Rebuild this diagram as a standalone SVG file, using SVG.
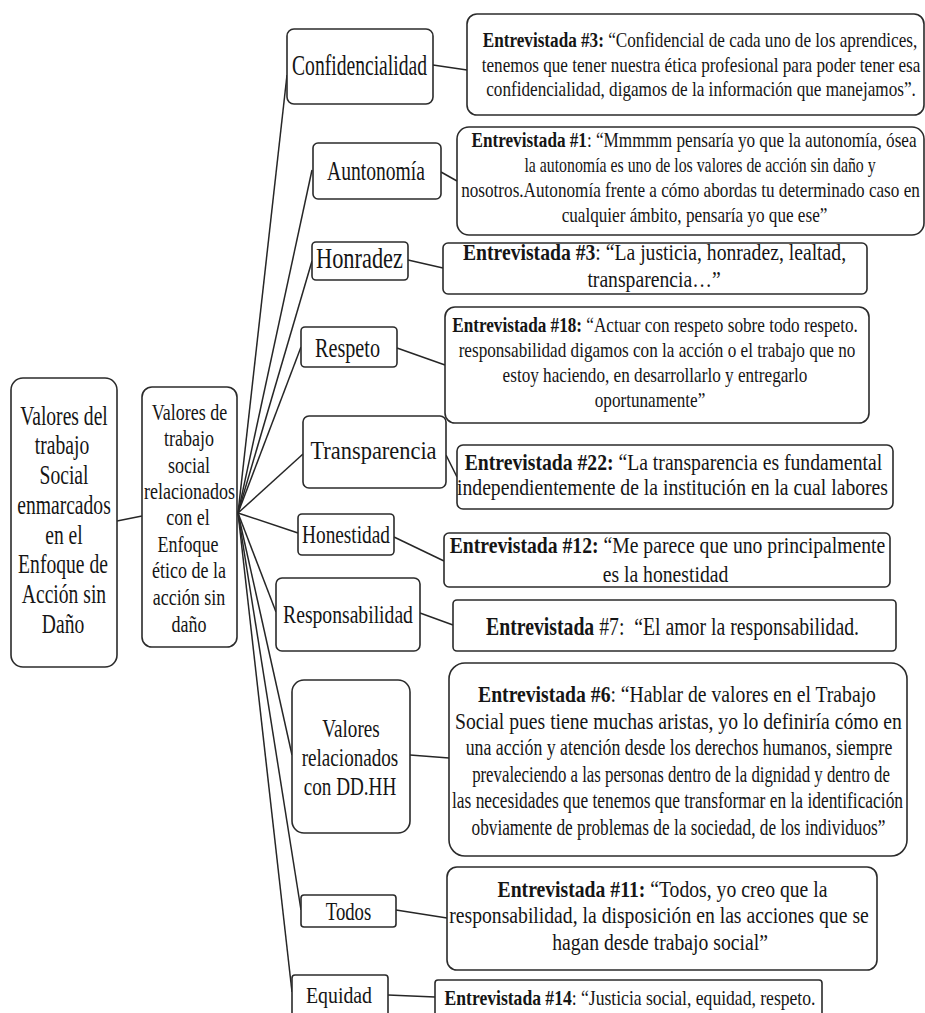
<svg xmlns="http://www.w3.org/2000/svg" width="925" height="1013" viewBox="0 0 925 1013">
  <style>
    .box { fill: #ffffff; stroke: #2b2b2b; stroke-width: 1.6; }
    .wire { stroke: #262626; stroke-width: 1.5; fill: none; }
    text { font-family: "Liberation Serif", "Times New Roman", serif; fill: #151515; text-anchor: middle; }
    .b { font-weight: bold; }
  </style>
  <rect x="0" y="0" width="925" height="1013" fill="#ffffff"/>

  <!-- tree connectors -->
  <g id="connectors">
    <line class="wire" x1="117" y1="521" x2="142" y2="516"/>
    <line class="wire" x1="238" y1="513" x2="287" y2="75"/>
    <line class="wire" x1="238" y1="513" x2="312" y2="170"/>
    <line class="wire" x1="238" y1="513" x2="312" y2="261"/>
    <line class="wire" x1="238" y1="513" x2="301" y2="347"/>
    <line class="wire" x1="238" y1="513" x2="303" y2="454"/>
    <line class="wire" x1="238" y1="513" x2="298" y2="533"/>
    <line class="wire" x1="238" y1="513" x2="276" y2="612"/>
    <line class="wire" x1="238" y1="513" x2="292" y2="755"/>
    <line class="wire" x1="238" y1="513" x2="301" y2="910"/>
    <line class="wire" x1="238" y1="513" x2="292" y2="992"/>
    <line class="wire" x1="433" y1="65" x2="467" y2="70"/>
    <line class="wire" x1="441" y1="172" x2="457" y2="181"/>
    <line class="wire" x1="408" y1="260" x2="443" y2="268"/>
    <line class="wire" x1="397" y1="348" x2="445" y2="365"/>
    <line class="wire" x1="446" y1="455" x2="457" y2="477"/>
    <line class="wire" x1="394" y1="537" x2="444" y2="561"/>
    <line class="wire" x1="420" y1="613" x2="453" y2="625"/>
    <line class="wire" x1="410" y1="755" x2="449" y2="758"/>
    <line class="wire" x1="396" y1="910" x2="447" y2="918"/>
    <line class="wire" x1="388" y1="995" x2="435" y2="997"/>
  </g>

  <!-- root -->
  <g id="root" font-size="28">
    <rect class="box" x="11" y="378" width="106" height="289" rx="12"/>
    <text transform="translate(64 425) scale(0.7 1)">Valores del</text>
    <text transform="translate(62 454) scale(0.7 1)">trabajo</text>
    <text transform="translate(64 484) scale(0.7 1)">Social</text>
    <text transform="translate(64 514) scale(0.7 1)">enmarcados</text>
    <text transform="translate(64 544) scale(0.7 1)">en el</text>
    <text transform="translate(63 573) scale(0.7 1)">Enfoque de</text>
    <text transform="translate(64 603) scale(0.7 1)">Acción sin</text>
    <text transform="translate(63 633) scale(0.7 1)">Daño</text>
  </g>

  <!-- second level -->
  <g id="valores-trabajo-social" font-size="24">
    <rect class="box" x="142" y="387" width="95" height="260" rx="10"/>
    <text transform="translate(189.5 420) scale(0.75 1)">Valores de</text>
    <text transform="translate(189 446) scale(0.75 1)">trabajo</text>
    <text transform="translate(189 473) scale(0.75 1)">social</text>
    <text transform="translate(189.5 499) scale(0.75 1)">relacionados</text>
    <text transform="translate(188 525) scale(0.75 1)">con el</text>
    <text transform="translate(188 552) scale(0.75 1)">Enfoque</text>
    <text transform="translate(189 578) scale(0.75 1)">ético de la</text>
    <text transform="translate(189 605) scale(0.75 1)">acción sin</text>
    <text transform="translate(189 632) scale(0.75 1)">daño</text>
  </g>

  <!-- values -->
  <g id="confidencialidad">
    <rect class="box" x="287" y="29" width="146" height="75" rx="7"/>
    <text font-size="29" transform="translate(359.5 75) scale(0.676 1)">Confidencialidad</text>
  </g>
  <g id="autonomia">
    <rect class="box" x="313" y="143" width="128" height="56" rx="5"/>
    <text font-size="27" transform="translate(376 180) scale(0.726 1)">Auntonomía</text>
  </g>
  <g id="honradez">
    <rect class="box" x="312" y="242" width="96" height="38" rx="4"/>
    <text font-size="29" transform="translate(359.5 268) scale(0.772 1)">Honradez</text>
  </g>
  <g id="respeto">
    <rect class="box" x="301" y="327" width="96" height="40" rx="4"/>
    <text font-size="27" transform="translate(347.5 357) scale(0.747 1)">Respeto</text>
  </g>
  <g id="transparencia">
    <rect class="box" x="303" y="416" width="143" height="72" rx="6"/>
    <text font-size="26" transform="translate(373.5 459) scale(0.862 1)">Transparencia</text>
  </g>
  <g id="honestidad">
    <rect class="box" x="298" y="514" width="96" height="41" rx="4"/>
    <text font-size="25" transform="translate(346 543) scale(0.773 1)">Honestidad</text>
  </g>
  <g id="responsabilidad">
    <rect class="box" x="276" y="578" width="144" height="73" rx="6"/>
    <text font-size="26" transform="translate(348 623) scale(0.756 1)">Responsabilidad</text>
  </g>
  <g id="valores-ddhh" font-size="25">
    <rect class="box" x="292" y="680" width="118" height="153" rx="12"/>
    <text transform="translate(351 737) scale(0.765 1)">Valores</text>
    <text transform="translate(350 766) scale(0.765 1)">relacionados</text>
    <text transform="translate(350 795) scale(0.765 1)">con DD.HH</text>
  </g>
  <g id="todos">
    <rect class="box" x="301" y="895" width="95" height="32" rx="3"/>
    <text font-size="26" transform="translate(348.5 920) scale(0.72 1)">Todos</text>
  </g>
  <g id="equidad">
    <rect class="box" x="292" y="975" width="96" height="60" rx="3"/>
    <text font-size="24" transform="translate(339 1003) scale(0.825 1)">Equidad</text>
  </g>

  <!-- interview quotes -->
  <g id="cita-3-confidencialidad" font-size="22">
    <rect class="box" x="467" y="14" width="457" height="101" rx="10"/>
    <text transform="translate(700 47) scale(0.78 1)"><tspan class="b">Entrevistada #3:</tspan> “Confidencial de cada uno de los aprendices,</text>
    <text transform="translate(701 72) scale(0.78 1)">tenemos que tener nuestra ética profesional para poder tener esa</text>
    <text transform="translate(701 96) scale(0.78 1)">confidencialidad, digamos de la información que manejamos”.</text>
  </g>
  <g id="cita-1-autonomia" font-size="22">
    <rect class="box" x="457" y="127" width="467" height="108" rx="12"/>
    <text transform="translate(694 147) scale(0.78 1)"><tspan class="b">Entrevistada #1</tspan>: “Mmmmm pensaría yo que la autonomía, ósea</text>
    <text transform="translate(700 172) scale(0.72 1)">la autonomía es uno de los valores de acción sin daño y</text>
    <text transform="translate(690.5 197) scale(0.78 1)">nosotros.Autonomía frente a cómo abordas tu determinado caso en</text>
    <text transform="translate(694.5 222) scale(0.78 1)">cualquier ámbito, pensaría yo que ese”</text>
  </g>
  <g id="cita-3-honradez" font-size="24">
    <rect class="box" x="443" y="243" width="424" height="51" rx="5"/>
    <text transform="translate(654.5 260) scale(0.82 1)"><tspan class="b">Entrevistada #3</tspan>: “La justicia, honradez, lealtad,</text>
    <text transform="translate(654 287) scale(0.82 1)">transparencia…”</text>
  </g>
  <g id="cita-18-respeto" font-size="22">
    <rect class="box" x="445" y="307" width="424" height="116" rx="10"/>
    <text transform="translate(655 332) scale(0.78 1)"><tspan class="b">Entrevistada #18:</tspan> “Actuar con respeto sobre todo respeto.</text>
    <text transform="translate(657 357) scale(0.78 1)">responsabilidad digamos con la acción o el trabajo que no</text>
    <text transform="translate(655 382) scale(0.78 1)">estoy haciendo, en desarrollarlo y entregarlo</text>
    <text transform="translate(650 407) scale(0.78 1)">oportunamente”</text>
  </g>
  <g id="cita-22-transparencia" font-size="24">
    <rect class="box" x="457" y="445" width="436" height="64" rx="6"/>
    <text transform="translate(673.5 470) scale(0.82 1)"><tspan class="b">Entrevistada #22:</tspan> “La transparencia es fundamental</text>
    <text transform="translate(672.5 495) scale(0.82 1)">independientemente de la institución en la cual labores</text>
  </g>
  <g id="cita-12-honestidad" font-size="24">
    <rect class="box" x="444" y="533" width="446" height="54" rx="5"/>
    <text transform="translate(667.5 553) scale(0.82 1)"><tspan class="b">Entrevistada #12:</tspan> “Me parece que uno principalmente</text>
    <text transform="translate(665.5 582) scale(0.82 1)">es la honestidad</text>
  </g>
  <g id="cita-7-responsabilidad" font-size="25">
    <rect class="box" x="453" y="600" width="443" height="51" rx="4"/>
    <text transform="translate(672.5 635) scale(0.79 1)"><tspan class="b">Entrevistada</tspan> #7: &#160;“El amor la responsabilidad.</text>
  </g>
  <g id="cita-6-ddhh" font-size="24">
    <rect class="box" x="449" y="663" width="458" height="193" rx="16"/>
    <text transform="translate(677 702) scale(0.82 1)"><tspan class="b">Entrevistada #6</tspan>: “Hablar de valores en el Trabajo</text>
    <text transform="translate(678.5 729) scale(0.82 1)">Social pues tiene muchas aristas, yo lo definiría cómo en</text>
    <text transform="translate(679 755) scale(0.742 1)">una acción y atención desde los derechos humanos, siempre</text>
    <text transform="translate(681 782) scale(0.7 1)">prevaleciendo a las personas dentro de la dignidad y dentro de</text>
    <text transform="translate(677.5 808) scale(0.725 1)">las necesidades que tenemos que transformar en la identificación</text>
    <text transform="translate(678.5 835) scale(0.72 1)">obviamente de problemas de la sociedad, de los individuos”</text>
  </g>
  <g id="cita-11-todos" font-size="24">
    <rect class="box" x="447" y="867" width="430" height="103" rx="10"/>
    <text transform="translate(662.5 897) scale(0.82 1)"><tspan class="b">Entrevistada #11:</tspan> “Todos, yo creo que la</text>
    <text transform="translate(659 923) scale(0.82 1)">responsabilidad, la disposición en las acciones que se</text>
    <text transform="translate(660 950) scale(0.82 1)">hagan desde trabajo social”</text>
  </g>
  <g id="cita-14-equidad" font-size="22">
    <rect class="box" x="435" y="980" width="387" height="60" rx="3"/>
    <text transform="translate(630 1005) scale(0.8 1)"><tspan class="b">Entrevistada #14</tspan>: “Justicia social, equidad, respeto.</text>
  </g>
</svg>
